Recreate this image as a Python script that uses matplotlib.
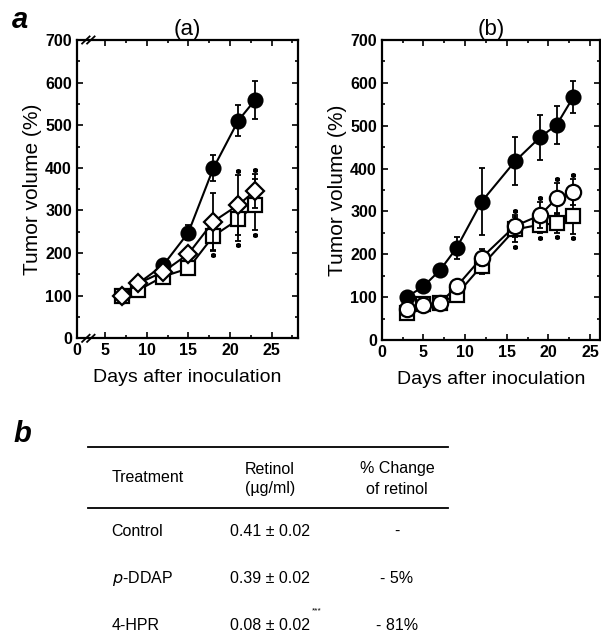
import matplotlib
matplotlib.use('Agg')
from matplotlib import pyplot as plt
from matplotlib.lines import Line2D
import numpy as np

plt.rcParams['font.family'] = ['Liberation Sans', 'DejaVu Sans']

# panel (a)
a_days_filled = [7, 12, 15, 18, 21, 23]
a_filled = [100, 172, 248, 399, 511, 559]
a_filled_err = [0, 8, 18, 30, 37, 45]
a_days = [7, 9, 12, 15, 18, 21, 23]
a_diamond = [100, 129, 156, 198, 274, 313, 346]
a_diamond_err = [0, 5, 6, 12, 66, 70, 40]
a_square = [100, 113, 145, 164, 240, 279, 313]
a_square_err = [0, 5, 6, 8, 35, 50, 60]
a_star_up = [False, False, False, False, False, True, True]
a_star_dn = [False, False, False, False, True, True, True]

# panel (b)
b_days = [3, 5, 7, 9, 12, 16, 19, 21, 23]
b_filled = [100, 125, 163, 215, 323, 417, 473, 502, 567]
b_filled_err = [5, 6, 10, 25, 78, 56, 53, 45, 38]
b_circle = [73, 82, 86, 125, 192, 266, 291, 331, 345]
b_circle_err = [5, 5, 5, 8, 20, 25, 30, 35, 30]
b_square = [64, 83, 86, 106, 173, 258, 269, 272, 289]
b_square_err = [5, 5, 5, 8, 20, 30, 20, 22, 42]
b_star_up = [False, False, False, False, False, True, True, True, True]
b_star_dn = [False, False, False, False, False, True, True, True, True]

yticks = [0, 100, 200, 300, 400, 500, 600, 700]
xtick_vals = [5, 10, 15, 20, 25]

# table
tbl_treat = ['Control', r'$\it{p}$-DDAP', '4-HPR']
tbl_retinol = ['0.41 \u00b1 0.02', '0.39 \u00b1 0.02', '0.08 \u00b1 0.02']
tbl_change = ['-', '- 5%', '- 81%']

W, H = 601, 638
fig = plt.figure(figsize=(W / 100, H / 100), dpi=100)


def fx(px):
    return px / W


def fy(py):
    return 1 - py / H


def style_axes(ax, xmin, xmax):
    ax.set_ylim(0, 700)
    ax.set_xlim(xmin, xmax)
    ax.set_yticks(yticks)
    ax.set_yticks(np.arange(50, 700, 100), minor=True)
    ax.tick_params(which='both', direction='in', top=True, right=True,
                   width=1.2, labelsize=11.5)
    ax.tick_params(which='major', length=4.5)
    ax.tick_params(which='minor', length=2)
    for lab in ax.get_xticklabels() + ax.get_yticklabels():
        lab.set_fontweight('bold')
    for s in ax.spines.values():
        s.set_linewidth(1.6)
    ax.set_ylabel('Tumor volume (%)', fontsize=15, labelpad=2)
    ax.set_xlabel('Days after inoculation', fontsize=14, labelpad=8)


def series(ax, x, y, err, marker, face, ms, z):
    ax.errorbar(x, y, yerr=err, fmt='none', ecolor='black', elinewidth=1.3,
                capsize=2.2, capthick=1.3, zorder=z - 1)
    ax.plot(x, y, color='black', lw=1.5, marker=marker, ms=ms,
            mfc=face, mec='black', mew=1.6, zorder=z)


def stars(ax, x, y, err, flags, sign):
    for xi, yi, ei, f in zip(x, y, err, flags):
        if f:
            ax.plot(xi, yi + sign * (ei + 10), marker=(6, 2, 0), ms=3.5,
                    color='black', mew=1.2, zorder=8)


# ---- panel (a)
axa = fig.add_axes([fx(76.7), fy(338.3), fx(298.3 - 76.7), (338.3 - 40) / H])
series(axa, a_days_filled, a_filled, a_filled_err, 'o', 'black', 10, 3)
series(axa, a_days, a_square, a_square_err, 's', 'white', 10, 5)
series(axa, a_days, a_diamond, a_diamond_err, 'D', 'white', 9.5, 7)
stars(axa, a_days, a_diamond, a_diamond_err, a_star_up, 1)
stars(axa, a_days, a_square, a_square_err, a_star_dn, -1)
style_axes(axa, 1.6, 28.2)
axa.set_xticks([1.6] + xtick_vals)
axa.set_xticklabels(['0'] + [str(v) for v in xtick_vals], fontweight='bold')
axa.set_xticks(np.arange(7.5, 28, 5), minor=True)
# axis break marks
for yb in (0, 1):
    for dx in (-0.3, 0.3):
        axa.plot([3.0 + dx - 0.45, 3.0 + dx + 0.45], [yb - 0.012, yb + 0.012],
                 transform=axa.get_xaxis_transform(), color='black', lw=1.3,
                 clip_on=False, zorder=9)
axa.set_title('(a)', fontsize=16, pad=3)

# ---- panel (b)
axb = fig.add_axes([fx(381.7), fy(340), fx(600 - 381.7), (340 - 40) / H])
series(axb, b_days, b_filled, b_filled_err, 'o', 'black', 10, 3)
series(axb, b_days, b_square, b_square_err, 's', 'white', 10, 5)
series(axb, b_days, b_circle, b_circle_err, 'o', 'white', 11, 7)
stars(axb, b_days, b_circle, b_circle_err, b_star_up, 1)
stars(axb, b_days, b_square, b_square_err, b_star_dn, -1)
style_axes(axb, 0, 26.2)
axb.set_xticks([0] + xtick_vals)
axb.set_xticklabels(['0'] + [str(v) for v in xtick_vals], fontweight='bold')
axb.set_xticks(np.arange(2.5, 26, 5), minor=True)
axb.set_title('(b)', fontsize=16, pad=3)

# panel letters
fig.text(fx(12), fy(20), 'a', fontsize=21, fontweight='bold', style='italic',
         va='center', ha='left')
fig.text(fx(14), fy(434), 'b', fontsize=21, fontweight='bold', style='italic',
         va='center', ha='left')

# ---- table
for yl in (446.7, 508.3):
    fig.add_artist(Line2D([fx(88), fx(448)], [fy(yl), fy(yl)], color='black',
                          lw=1.3))
fs = 11.5
fig.text(fx(111.7), fy(478), 'Treatment', fontsize=fs, va='center', ha='left')
fig.text(fx(270), fy(469), 'Retinol', fontsize=fs, va='center', ha='center')
fig.text(fx(270), fy(489), '(\u00b5g/ml)', fontsize=fs, va='center', ha='center')
fig.text(fx(397), fy(469), '% Change', fontsize=fs, va='center', ha='center')
fig.text(fx(397), fy(489), 'of retinol', fontsize=fs, va='center', ha='center')
row_y = [531.7, 578.3, 626]
for i, yr in enumerate(row_y):
    fig.text(fx(111.7), fy(yr), tbl_treat[i], fontsize=fs, va='center', ha='left')
    fig.text(fx(230), fy(yr), tbl_retinol[i], fontsize=fs, va='center', ha='left')
    fig.text(fx(397), fy(yr), tbl_change[i], fontsize=fs, va='center', ha='center')
fig.text(fx(312), fy(611), '***', fontsize=6, va='center', ha='left')

fig.savefig('out.png', dpi=100)
